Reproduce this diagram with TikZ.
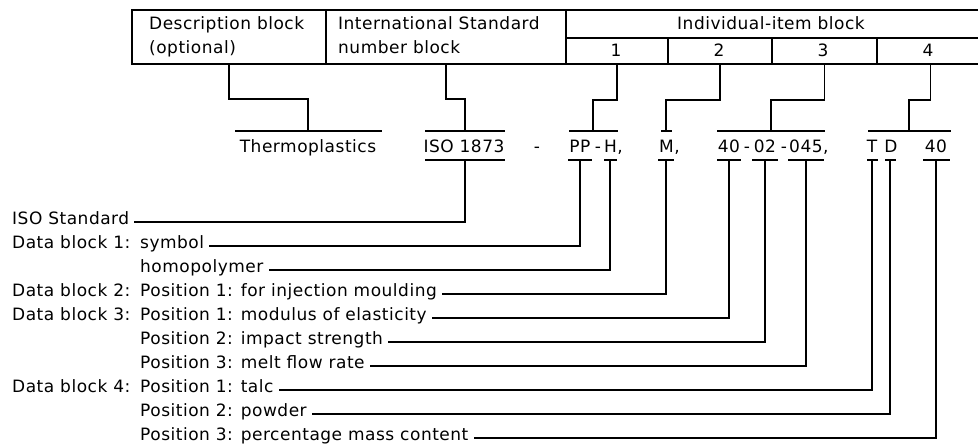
\documentclass[tikz,border=0pt]{standalone}
\usepackage{fontspec}
\setmainfont{DejaVu Sans}[LetterSpace=3]

\begin{document}
\begin{tikzpicture}[x=1pt,y=-1pt,
	every node/.style={font=\fontsize{17}{20}\selectfont, inner sep=0pt},
	cell/.style 2 args={draw, line width=1.8pt, anchor=north west, minimum width=#1, minimum height=#2},
	tickbar/.style={fill, minimum width=#1, minimum height=1.6pt},
	lead/.style={line width=1.5pt},
	lbl/.style={anchor=base west, text height=12pt, text depth=6pt},
	item/.style={anchor=base}
	]
  \useasboundingbox (0,0) rectangle (978,446);
  % block table
  \node[cell={194}{54}] (desc) at (131,9) {};
  \node[cell={240}{54}] (isoblk) at (325,9) {};
  \node[cell={418}{28}] (indiv) at (565,9) {};
  \node[cell={102}{26}] (b1) at (565,37) {};
  \node[cell={104}{26}] (b2) at (667,37) {};
  \node[cell={105}{26}] (b3) at (771,37) {};
  \node[cell={107}{26}] (b4) at (876,37) {};
  \node[anchor=base west] (desc-a) at (149,30) {Description block};
  \node[anchor=base west] (desc-b) at (149,54) {(optional)};
  \node[anchor=base west] (iso-a) at (338,30) {International Standard};
  \node[anchor=base west] (iso-b) at (338,54) {number block};
  \node[item] (indiv-t) at (771,30) {Individual-item block};
  \node[item] (n1) at (616,57) {1};
  \node[item] (n2) at (719,57) {2};
  \node[item] (n3) at (823,57) {3};
  \node[item] (n4) at (928,57) {4};
  % designation
  \node[item] (thermo) at (308,153) {Thermoplastics};
  \node[item] (iso) at (464,153) {ISO 1873};
  \node[item] (dash) at (537,153) {-};
  \node[item] (pp) at (580,153) {PP};
  \node[item] (dash-pp) at (598,153) {-};
  \node[anchor=base west] (h) at (604,153) {H,};
  \node[anchor=base west] (m) at (659,153) {M,};
  \node[item] (e40) at (729,153) {40};
  \node[item] (dash-a) at (747,153) {-};
  \node[item] (e02) at (765,153) {02};
  \node[item] (dash-b) at (784,153) {-};
  \node[anchor=base west] (e045) at (789,153) {045,};
  \node[item] (t) at (872,153) {T};
  \node[item] (d) at (891,153) {D};
  \node[item] (p40) at (936,153) {40};
  % over and under bars
  \node[tickbar=147] (o-thermo) at (308,131) {};
  \node[tickbar=80] (o-iso) at (465,131) {};
  \node[tickbar=49] (o-pph) at (593,131) {};
  \node[tickbar=11] (o-m) at (666,131) {};
  \node[tickbar=108] (o-prop) at (771,131) {};
  \node[tickbar=83] (o-td) at (909,131) {};
  \node[tickbar=80] (u-iso) at (465,160) {};
  \node[tickbar=24] (u-pp) at (580,160) {};
  \node[tickbar=13] (u-h) at (610,160) {};
  \node[tickbar=16] (u-m) at (666,160) {};
  \node[tickbar=24] (u-40) at (729,160) {};
  \node[tickbar=26] (u-02) at (765,160) {};
  \node[tickbar=36] (u-045) at (806,160) {};
  \node[tickbar=11] (u-t) at (872,160) {};
  \node[tickbar=11] (u-d) at (890,160) {};
  \node[tickbar=27] (u-40b) at (936,160) {};
  % explanations
  \node[lbl] (l1) at (12,225) {ISO Standard};
  \node[lbl] (db1) at (12,249) {Data block 1:};
  \node[lbl] (l2) at (140,249) {symbol};
  \node[lbl] (l3) at (140,273) {homopolymer};
  \node[lbl] (db2) at (12,297) {Data block 2:};
  \node[lbl] (l4) at (140,297) {Position 1: for injection moulding};
  \node[lbl] (db3) at (12,321) {Data block 3:};
  \node[lbl] (l5) at (140,321) {Position 1: modulus of elasticity};
  \node[lbl] (l6) at (140,345) {Position 2: impact strength};
  \node[lbl] (l7) at (140,369) {Position 3: melt flow rate};
  \node[lbl] (db4) at (12,393) {Data block 4:};
  \node[lbl] (l8) at (140,393) {Position 1: talc};
  \node[lbl] (l9) at (140,417) {Position 2: powder};
  \node[lbl] (l10) at (140,441) {Position 3: percentage mass content};
  % leaders
  \draw[lead] (desc.south) -- ++(0,34) -| (o-thermo);
  \draw[lead] (isoblk.south) -- ++(0,34) -| (o-iso);
  \draw[lead] (b1.south) -- ++(0,35) -| (o-pph);
  \draw[lead] (b2.south) -- ++(0,35) -| (o-m);
  \draw[lead] (b3.south) -- ++(0,35) -| (o-prop);
  \draw[lead] (b4.south) -- ++(0,35) -| (o-td);
  \draw[lead, shorten >=5pt] (u-iso) |- (l1.east);
  \draw[lead, shorten >=5pt] (u-pp) |- (l2.east);
  \draw[lead, shorten >=5pt] (u-h) |- (l3.east);
  \draw[lead, shorten >=5pt] (u-m) |- (l4.east);
  \draw[lead, shorten >=5pt] (u-40) |- (l5.east);
  \draw[lead, shorten >=5pt] (u-02) |- (l6.east);
  \draw[lead, shorten >=5pt] (u-045) |- (l7.east);
  \draw[lead, shorten >=5pt] (u-t) |- (l8.east);
  \draw[lead, shorten >=5pt] (u-d) |- (l9.east);
  \draw[lead, shorten >=5pt] (u-40b) |- (l10.east);
\end{tikzpicture}
\end{document}
